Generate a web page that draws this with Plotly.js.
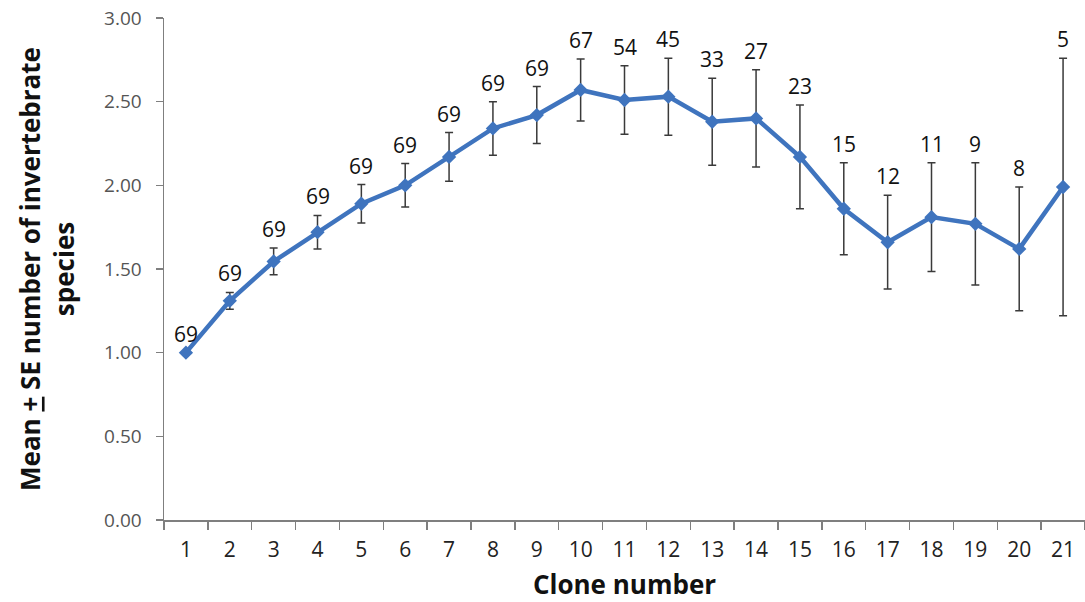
<!DOCTYPE html>
<html><head><meta charset="utf-8">
<script src="https://cdn.plot.ly/plotly-3.0.1.min.js"></script>
<style>html,body{margin:0;padding:0;background:#fff}#chart{width:1085px;height:602px}</style>
</head><body><div id="chart"></div>
<script>
const clones = ['1','2','3','4','5','6','7','8','9','10','11','12','13','14','15','16','17','18','19','20','21'];
const means = [1.00,1.31,1.545,1.72,1.89,2.00,2.17,2.34,2.42,2.57,2.51,2.53,2.38,2.40,2.17,1.86,1.66,1.81,1.77,1.62,1.99];
const se = [0,0.05,0.08,0.10,0.115,0.13,0.145,0.16,0.17,0.185,0.205,0.23,0.26,0.29,0.31,0.275,0.28,0.325,0.365,0.37,0.77];
const nLabels = ['69','69','69','69','69','69','69','69','69','67','54','45','33','27','23','15','12','11','9','8','5'];

const trace = {
  x: clones, y: means, type: 'scatter', mode: 'lines+markers',
  line: {color: '#3F74BE', width: 4.5},
  marker: {symbol: 'diamond', size: 11, color: '#3F74BE'},
  error_y: {type: 'data', array: se, visible: true, color: '#3a3a3a', thickness: 1.5, width: 4},
  hoverinfo: 'skip'
};

const annotations = clones.map((c, i) => ({
  x: i, y: means[i] + se[i], xref: 'x', yref: 'y',
  text: nLabels[i], showarrow: false, yanchor: 'bottom', yshift: 3,
  font: {family: 'Open Sans, sans-serif', size: 21, color: '#111'}
}));

const layout = {
  width: 1085, height: 602,
  margin: {l: 164, r: 0, t: 18, b: 82},
  paper_bgcolor: '#fff', plot_bgcolor: '#fff',
  showlegend: false,
  xaxis: {
    type: 'category', tickson: 'boundaries', range: [-0.5, 20.5],
    showline: true, linecolor: '#7f7f7f', linewidth: 1.5,
    ticks: 'outside', ticklen: 8, tickcolor: '#7f7f7f', tickwidth: 1.5,
    ticklabelstandoff: 10,
    showgrid: false, zeroline: false,
    tickfont: {family: 'Liberation Sans Narrow, Open Sans, sans-serif', size: 21, color: '#222'},
    title: {text: '<b>Clone number</b>', font: {family: 'Open Sans, sans-serif', size: 26, color: '#111'}, standoff: 20}
  },
  yaxis: {
    range: [0, 3], tickvals: [0,0.5,1,1.5,2,2.5,3], ticktext: ['0.00','0.50','1.00','1.50','2.00','2.50','3.00'],
    showline: true, linecolor: '#7f7f7f', linewidth: 1.5,
    ticks: 'outside', ticklen: 7, tickcolor: '#7f7f7f', tickwidth: 1.5,
    ticklabelstandoff: 10,
    showgrid: false, zeroline: false,
    tickfont: {family: 'Open Sans, sans-serif', size: 19, color: '#555'},
    title: {text: '<b>Mean <span style="text-decoration:underline">+</span> SE number of invertebrate<br>species</b>', font: {family: 'Open Sans, sans-serif', size: 26, color: '#111'}, standoff: 22}
  },
  annotations: annotations
};

Plotly.newPlot('chart', [trace], layout, {displayModeBar: false, staticPlot: true});
</script>
</body></html>
